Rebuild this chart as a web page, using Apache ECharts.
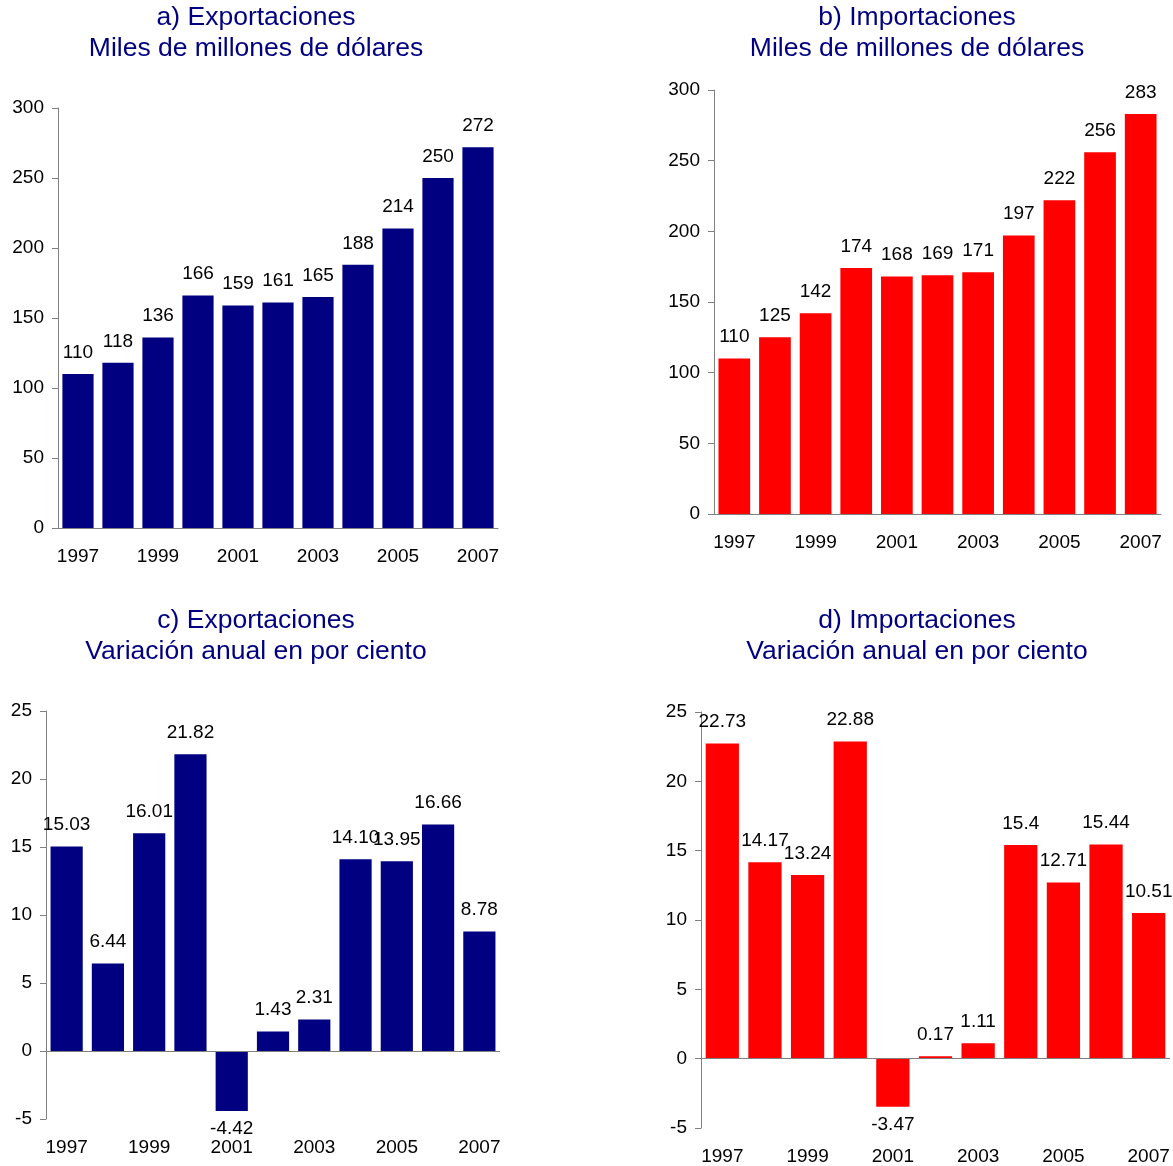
<!DOCTYPE html>
<html><head><meta charset="utf-8">
<script src="https://cdn.jsdelivr.net/npm/echarts@6/dist/echarts.min.js"></script>
<style>html,body{margin:0;padding:0;background:#fff}#c{width:1173px;height:1166px}</style>
</head><body><div id="c"></div>
<script>
const years = ['1997','1998','1999','2000','2001','2002','2003','2004','2005','2006','2007'];
const exportsLevel = [110,118,136,166,159,161,165,188,214,250,272];
const importsLevel = [110,125,142,174,168,169,171,197,222,256,283];
const exportsGrowth = [15.03,6.44,16.01,21.82,-4.42,1.43,2.31,14.10,13.95,16.66,8.78];
const importsGrowth = [22.73,14.17,13.24,22.88,-3.47,0.17,1.11,15.4,12.71,15.44,10.51];
const exportsGrowthLabels = ['15.03','6.44','16.01','21.82','-4.42','1.43','2.31','14.10','13.95','16.66','8.78'];
const importsGrowthLabels = ['22.73','14.17','13.24','22.88','-3.47','0.17','1.11','15.4','12.71','15.44','10.51'];
const titles = [
  'a) Exportaciones\nMiles de millones de dólares',
  'b) Importaciones\nMiles de millones de dólares',
  'c) Exportaciones\nVariación anual en por ciento',
  'd) Importaciones\nVariación anual en por ciento'
];
const NAVY = '#000080', RED = '#ff0000';
const FONT = '"Liberation Sans", Arial, sans-serif';
const chart = echarts.init(document.getElementById('c'));

const grids = [
  {left:58, top:108, width:440, height:420},
  {left:714, top:90, width:447, height:424},
  {left:46, top:711, width:454, height:408},
  {left:701, top:712, width:469, height:417}
];
const yRanges = [[0,300,50],[0,300,50],[-5,25,5],[-5,25,5]];

function xAxis(i){
  return {type:'category', gridIndex:i, data:years,
    axisLine:{show:i<2, onZero:false, lineStyle:{color:'#808080', width:1}},
    axisTick:{show:false},
    axisLabel:{interval:1, color:'#000', fontSize:19, fontFamily:FONT, margin:19}
  };
}
function yAxis(i){
  return {type:'value', gridIndex:i, min:yRanges[i][0], max:yRanges[i][1], interval:yRanges[i][2],
    axisLine:{show:true, lineStyle:{color:'#808080', width:1}},
    axisTick:{show:true, length:6, lineStyle:{color:'#808080'}},
    splitLine:{show:false},
    axisLabel:{color:'#000', fontSize:19, fontFamily:FONT, margin:14}
  };
}
function barData(vals, labels){
  return vals.map((v,k)=>({value:v, label:{position: v<0?'bottom':'top', distance: v<0?8:12,
    formatter: labels? labels[k] : String(v)}}));
}
function series(i, vals, color, labels){
  const s = {type:'bar', xAxisIndex:i, yAxisIndex:i, data:barData(vals, labels),
    barCategoryGap:'22%',
    itemStyle:{color:color},
    label:{show:true, color:'#000', fontSize:19, fontFamily:FONT},
    animation:false
  };
  if (i>=2) {
    s.markLine = {silent:true, symbol:'none', label:{show:false},
      lineStyle:{color:'#808080', type:'solid', width:1},
      data:[{yAxis:0}], animation:false};
  }
  return s;
}
const titleCenters = [[256,2],[917,2],[256,605],[917,605]];
chart.setOption({
  animation:false,
  grid:grids,
  xAxis:[0,1,2,3].map(xAxis),
  yAxis:[0,1,2,3].map(yAxis),
  series:[
    series(0, exportsLevel, NAVY),
    series(1, importsLevel, RED),
    series(2, exportsGrowth, NAVY, exportsGrowthLabels),
    series(3, importsGrowth, RED, importsGrowthLabels)
  ],
  graphic: titles.map((t,i)=>({type:'text', x:titleCenters[i][0], y:titleCenters[i][1],
    style:{text:t, fill:NAVY, font:'26.5px '+FONT, textAlign:'center', textVerticalAlign:'top', lineHeight:31}}))
});
</script></body></html>
